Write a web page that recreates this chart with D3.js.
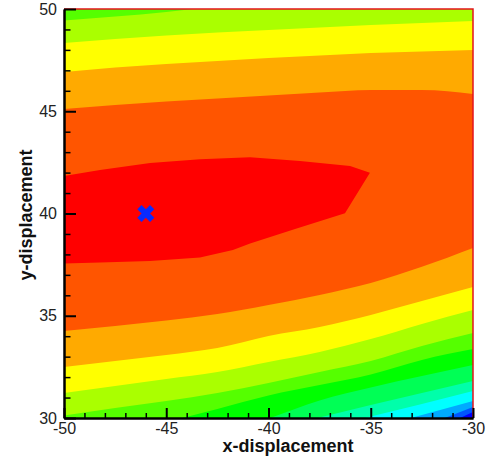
<!DOCTYPE html>
<html>
<head>
<meta charset="utf-8">
<script src="https://cdn.jsdelivr.net/npm/d3@7"></script>
<style>
  body { margin: 0; background: #fff; }
  svg { display: block; }
  .tick text { font-family: "Liberation Sans", Arial, sans-serif; font-size: 16px; fill: #222; }
  .title { font-family: "Liberation Sans", Arial, sans-serif; font-size: 18px; font-weight: bold; fill: #111; }
</style>
</head>
<body>
<svg id="chart"></svg>
<script>
var xs = [-50, -47.5, -45, -42.5, -40, -37.5, -35, -32.5, -30];

// upper band edges (y at each xs), going up from the centre
var upper1 = [45.11, 45.31, 45.48, 45.62, 45.77, 45.92, 46.04, 46.04, 45.84];
var upper2 = [46.92, 47.14, 47.31, 47.46, 47.60, 47.73, 47.85, 47.92, 48.00];
var upper3 = [48.34, 48.53, 48.70, 48.85, 48.97, 49.10, 49.22, 49.32, 49.41];
var upper4 = [49.44, 49.63, 49.85, 50.15, null, null, null, null, null];

// lower band edges, going down from the centre
var lower1 = [34.25, 34.50, 34.77, 35.09, 35.53, 36.02, 36.60, 37.39, 38.31];
var lower2 = [32.49, 32.79, 33.08, 33.42, 34.01, 34.45, 35.04, 35.72, 36.41];
var lower3 = [31.22, 31.56, 31.91, 32.25, 32.74, 33.23, 33.86, 34.60, 35.28];
var lower4 = [30.12, 30.49, 30.83, 31.22, 31.71, 32.25, 32.79, 33.52, 34.16];
var lower5 = [null, null, 29.80, 30.44, 31.10, 31.61, 32.13, 32.84, 33.37];
var lower6 = [null, null, null, 29.12, 29.97, 30.86, 31.49, 32.05, 32.59];
var lower7 = [null, null, null, null, 29.41, 30.02, 30.64, 31.22, 31.81];
var lower8 = [null, null, null, null, null, 29.46, 30.07, 30.69, 31.32];
var lower9 = [null, null, null, null, null, null, 29.46, 30.15, 30.83];
var lower10 = [null, null, null, null, null, null, null, 29.56, 30.54];
var lower11 = [null, null, null, null, null, null, null, 29.15, 30.29];

// inner (max) region
var lobeX = [-50, -48.24, -45.79, -43.35, -40.90, -38.46, -36.01, -35.04, -36.26, -38.70, -40.90, -41.74, -43.35, -45.79, -48.24, -50];
var lobeY = [41.83, 42.13, 42.47, 42.65, 42.75, 42.57, 42.32, 41.99, 40.01, 39.24, 38.53, 38.21, 37.85, 37.68, 37.60, 37.56];

var marker = [-46, 40];

var xMajor = [-50, -45, -40, -35, -30],
yMajor = [30, 35, 40, 45, 50];

var levelColors = ["#ff0000", "#ff5500", "#ffaa00", "#ffff00", "#aaff00", "#55ff00", "#00ff00",
  "#00ff55", "#00ffaa", "#00ffff", "#00aaff", "#0055ff", "#0000ff"];

var W = 492, H = 459,
margin = {top: 9, right: 19, bottom: 41, left: 64},
width = W - margin.left - margin.right,
height = H - margin.top - margin.bottom;

var svg = d3.select("#chart")
.attr("width", W)
.attr("height", H);

var x = d3.scaleLinear().domain([-50, -30]).range([margin.left, margin.left + width]),
y = d3.scaleLinear().domain([30, 50]).range([margin.top + height, margin.top]);

svg.append("clipPath")
.attr("id", "plotclip")
.append("rect")
.attr("x", x(-50))
.attr("y", y(50))
.attr("width", width)
.attr("height", height);

var g = svg.append("g").attr("clip-path", "url(#plotclip)");

g.append("rect")
.attr("x", x(-50))
.attr("y", y(50))
.attr("width", width)
.attr("height", height)
.style("fill", levelColors[1]);

function pts(vals) {
  return xs.map(function (d, i) { return [d, vals[i]]; });
}

var topArea = d3.area()
.defined(function (d) { return d[1] != null; })
.x(function (d) { return x(d[0]); })
.y0(y(50))
.y1(function (d) { return y(d[1]); })
.curve(d3.curveMonotoneX);

var botArea = d3.area()
.defined(function (d) { return d[1] != null; })
.x(function (d) { return x(d[0]); })
.y0(y(30))
.y1(function (d) { return y(d[1]); })
.curve(d3.curveMonotoneX);

[upper1, upper2, upper3, upper4].forEach(function (b, i) {
  g.append("path")
  .attr("d", topArea(pts(b)))
  .style("fill", levelColors[i + 2]);
});

[lower1, lower2, lower3, lower4, lower5, lower6, lower7, lower8, lower9, lower10, lower11].forEach(function (b, i) {
  g.append("path")
  .attr("d", botArea(pts(b)))
  .style("fill", levelColors[i + 2]);
});

var lobeLine = d3.line()
.x(function (d) { return x(d[0]); })
.y(function (d) { return y(d[1]); })
.curve(d3.curveLinearClosed);

g.append("path")
.attr("d", lobeLine(lobeX.map(function (d, i) { return [d, lobeY[i]]; })))
.style("fill", levelColors[0]);

// marker
svg.append("path")
.attr("d", d3.symbol().type(d3.symbolCross).size(180)())
.attr("transform", "translate(" + x(marker[0]) + "," + y(marker[1]) + ") rotate(45)")
.style("fill", "#0a2bff");

// red frame on top and right
svg.append("path")
.attr("d", "M" + x(-50) + "," + y(50) + "H" + x(-30) + "V" + y(30))
.style("fill", "none")
.style("stroke", "#e4141c")
.style("stroke-width", 1.5);

// axes
var xMinor = d3.range(-50, -29, 1).filter(function (d) { return xMajor.indexOf(d) < 0; }),
yMinor = d3.range(30, 51, 1).filter(function (d) { return yMajor.indexOf(d) < 0; });

svg.append("g")
.attr("class", "axis minor")
.attr("transform", "translate(0," + y(30) + ")")
.call(d3.axisBottom(x).tickValues(xMinor).tickSizeInner(-5).tickSizeOuter(0).tickFormat(""));

svg.append("g")
.attr("class", "axis minor")
.attr("transform", "translate(" + x(-50) + ",0)")
.call(d3.axisLeft(y).tickValues(yMinor).tickSizeInner(-6.5).tickSizeOuter(0).tickFormat(""));

svg.append("g")
.attr("class", "axis major")
.attr("transform", "translate(0," + y(30) + ")")
.call(d3.axisBottom(x).tickValues(xMajor).tickSizeInner(-10).tickSizeOuter(0).tickPadding(5)
  .tickFormat(function (d) { return String(d); }));

svg.append("g")
.attr("class", "axis major")
.attr("transform", "translate(" + x(-50) + ",0)")
.call(d3.axisLeft(y).tickValues(yMajor).tickSizeInner(-12).tickSizeOuter(0).tickPadding(7)
  .tickFormat(function (d) { return String(d); }));

svg.selectAll(".axis .domain").style("stroke", "#000").style("stroke-width", 2);
svg.selectAll(".axis.minor line").style("stroke", "#000").style("stroke-width", 1.5);
svg.selectAll(".axis.major line").style("stroke", "#000").style("stroke-width", 2);
svg.selectAll(".axis text").attr("font-family", null).attr("font-size", null);

svg.append("text")
.attr("class", "title")
.attr("x", 288)
.attr("y", 452)
.attr("text-anchor", "middle")
.text("x-displacement");

svg.append("text")
.attr("class", "title")
.attr("transform", "translate(32," + 215 + ") rotate(-90)")
.attr("text-anchor", "middle")
.text("y-displacement");
</script>
</body>
</html>
